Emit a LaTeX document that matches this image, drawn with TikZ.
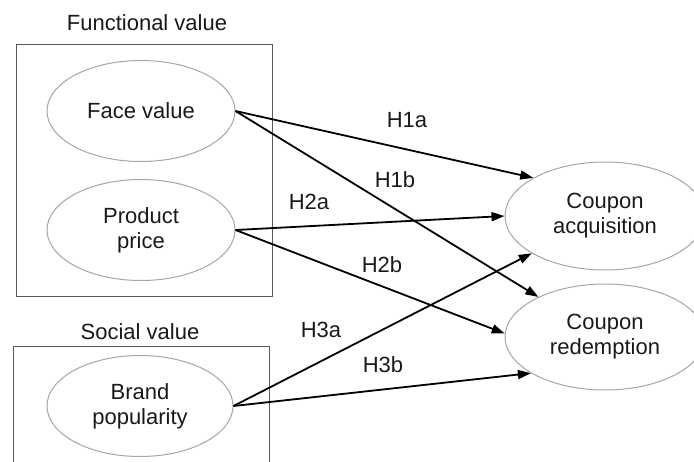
\documentclass[tikz,border=0pt]{standalone}
\usepackage{fontspec}
\setmainfont{Liberation Sans}
\usetikzlibrary{shapes.geometric,arrows.meta}
\begin{document}
\begin{tikzpicture}[x=1pt,y=-1pt,
  every node/.style={font=\fontsize{22}{25}\selectfont, text=black!90},
  oval/.style={ellipse, draw=gray!70, line width=1pt, inner sep=0pt, align=center},
  grp/.style={draw=gray!70!black, line width=1pt},
  arr/.style={line width=1.8pt, black, -{Triangle[length=13pt,width=9pt]}},
  hlab/.style={inner sep=0pt}]
\useasboundingbox (0,0) rectangle (694,461);
\clip (0,0) rectangle (694,461);
% groups
\node[hlab] (tf) at (147,23) {Functional value};
\node[hlab] (ts) at (140,332) {Social value};
\draw[grp] (16,44) rectangle (272,296);
\draw[grp] (13,470) -- (13,346) -- (269,346) -- (269,470);
% ellipses
\node[oval, minimum width=188pt, minimum height=101pt] (face) at (141,111) {Face value};
\node[oval, minimum width=188pt, minimum height=101pt] (price) at (141,230) {Product\\price};
\node[oval, minimum width=186pt, minimum height=101pt] (brand) at (140,406) {Brand\\popularity};
\node[oval, minimum width=200pt, minimum height=108pt] (acq) at (605,216) {Coupon\\acquisition};
\node[oval, minimum width=200pt, minimum height=106pt] (red) at (605,337) {Coupon\\redemption};
% arrows
\draw[arr] (face.east) -- (acq.152);
\draw[arr] (face.east) -- (red.149);
\draw[arr] (price.east) -- (acq.west);
\draw[arr] (price.east) -- (red.178);
\draw[arr] (brand.east) -- (acq.207);
\draw[arr] (brand.east) -- (red.206);
% labels
\node[hlab] (h1a) at (407,120) {H1a};
\node[hlab] (h1b) at (395,180) {H1b};
\node[hlab] (h2a) at (309,202) {H2a};
\node[hlab] (h2b) at (382,265) {H2b};
\node[hlab] (h3a) at (321,330) {H3a};
\node[hlab] (h3b) at (383,365) {H3b};
\end{tikzpicture}
\end{document}
